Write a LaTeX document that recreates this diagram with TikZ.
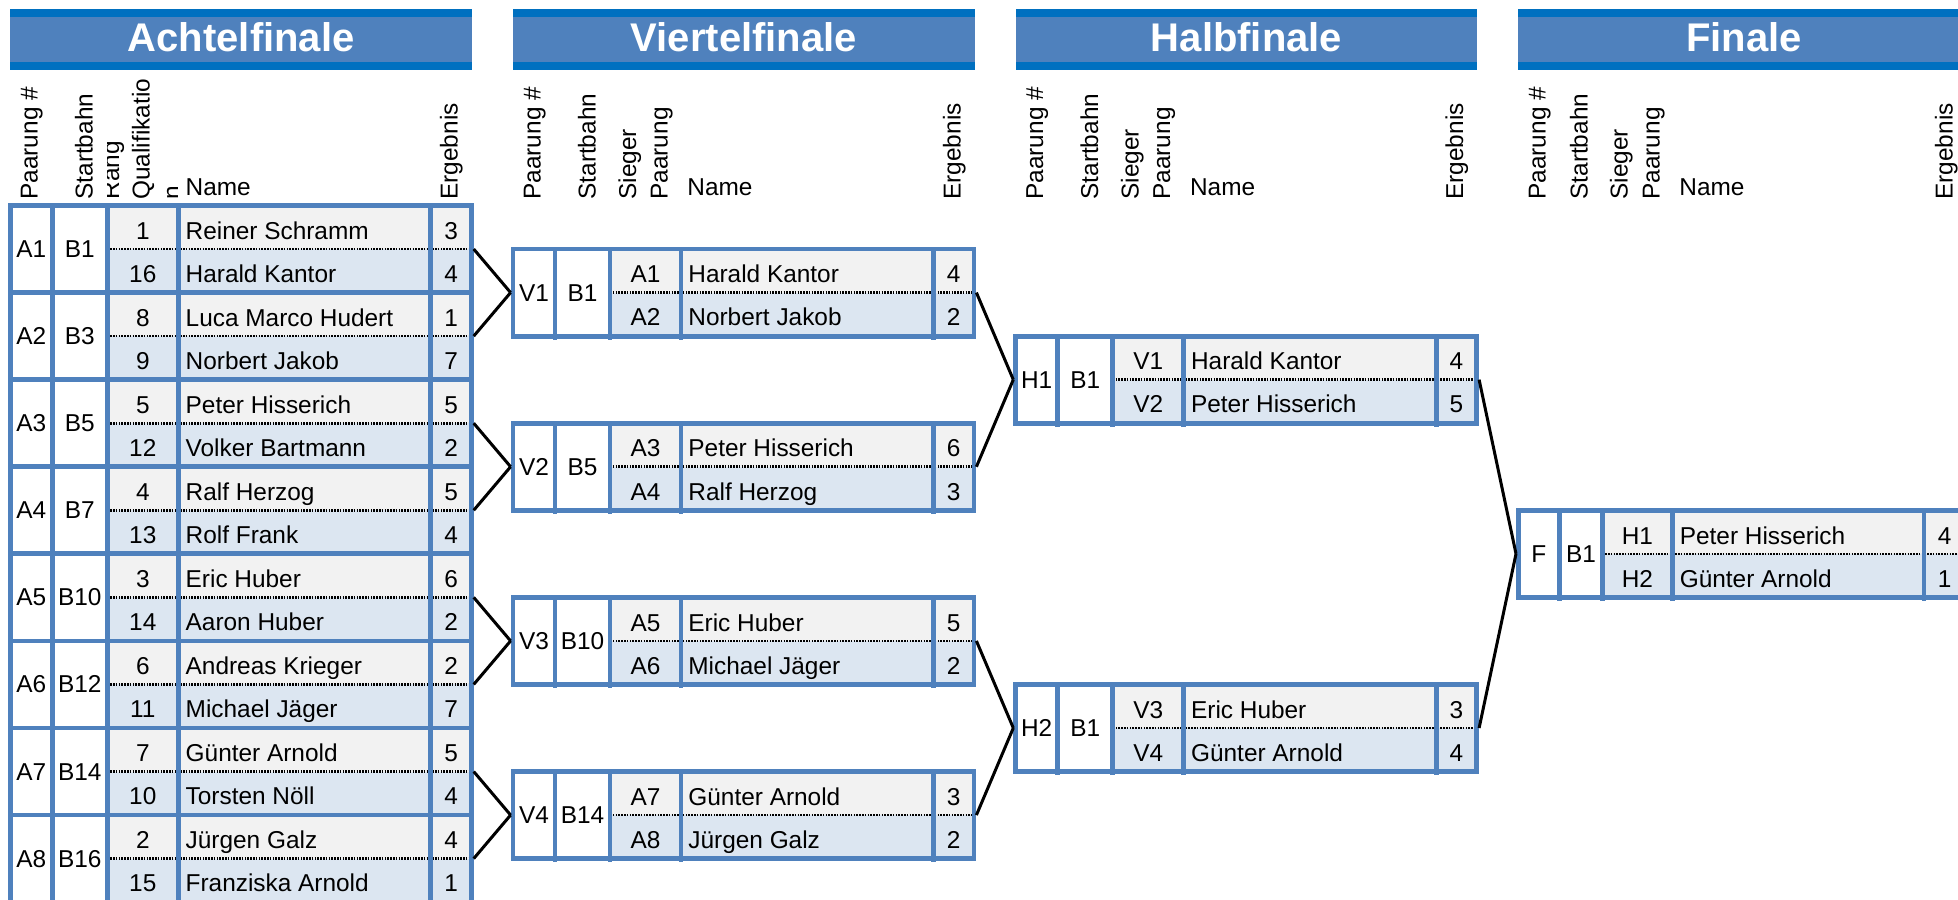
\documentclass[tikz,border=0pt]{standalone}
\usepackage{fontspec}
\setmainfont{Liberation Sans}
\definecolor{bord}{HTML}{4F81BD}
\definecolor{darkband}{HTML}{0070C0}
\definecolor{rowA}{HTML}{F2F2F2}
\definecolor{rowB}{HTML}{DCE6F1}
\def\rh{43.54}
\newcommand\drawmatch{%
  \pgfmathsetmacro\ym{\yt+\rh}%
  \pgfmathsetmacro\yb{\yt+2*\rh}%
  \fill[rowA] (\sx+\cB,\yt) rectangle (\sx+\cW,\ym);
  \fill[rowB] (\sx+\cB,\ym) rectangle (\sx+\cW,\yb);
  \draw[dotline] (\sx+\cB,\ym) -- (\sx+\cW,\ym);
  \foreach \cc in {\cA,\cB,\cC,\cD}{\draw[divline] (\sx+\cc,\yt) -- (\sx+\cc,\yb+3.5);}
  \node[frame, minimum width={\cW*0.5pt}, minimum height={\rh*1pt}] (\nm) at (\sx+\cW/2,\ym) {};
  \node[cell] (\nm-l) at (\sx+\cA/2,\ym+8.5) {\lab};
  \node[cell] (\nm-b) at (\sx+\cA/2+\cB/2,\ym+8.5) {\bahn};
  \node[cell] (\nm-ra) at (\sx+\cB/2+\cC/2,\yt+\rh/2+12) {\ra};
  \node[cellw] (\nm-na) at (\sx+\cC+7,\yt+\rh/2+12) {\na};
  \node[cell] (\nm-pa) at (\sx+\cD/2+\cW/2,\yt+\rh/2+12) {\pa};
  \node[cell] (\nm-rb) at (\sx+\cB/2+\cC/2,\ym+\rh/2+11.5) {\rb};
  \node[cellw] (\nm-nb) at (\sx+\cC+7,\ym+\rh/2+11.5) {\nb};
  \node[cell] (\nm-pb) at (\sx+\cD/2+\cW/2,\ym+\rh/2+11.5) {\pb};
}
\begin{document}
\begin{tikzpicture}[x=0.5pt,y=-0.5pt,
  frame/.style={draw=bord, line width=2.4pt, inner sep=0pt, rectangle},
  divline/.style={draw=bord, line width=2.4pt},
  dotline/.style={draw=black, line width=1.3pt, dash pattern=on 0.8pt off 0.6pt},
  conn/.style={draw=black, line width=1.5pt},
  cell/.style={inner sep=0pt, anchor=base, font=\fontsize{12.2}{14}\selectfont},
  cellw/.style={cell, anchor=base west},
  hdr/.style={cell, rotate=90, anchor=base west},
  hname/.style={cell, anchor=base west},
  titletext/.style={inner sep=0pt, anchor=base, text=white, font=\bfseries\fontsize{20}{24}\selectfont}]
\path[use as bounding box] (0,0) rectangle (1958,899);
\clip (0,0) rectangle (1958,899);
\fill[white] (0,0) rectangle (1958,899);

% banners
\foreach \s/\w/\t/\bn in {10.3/461.7/Achtelfinale/tA, 513/461.7/Viertelfinale/tV, 1015.7/461.7/Halbfinale/tH, 1518.4/451/Finale/tF}{
  \fill[darkband] (\s,9) rectangle (\s+\w,70);
  \fill[bord] (\s,17) rectangle (\s+\w,62);
  \node[titletext] (\bn) at (\s+\w/2,52) {\t};
}

% headers Achtelfinale
\node[hdr] (hA1) at (37.5,200) {Paarung \#};
\node[hdr] (hA2) at (92.5,200) {Startbahn};
\begin{scope}
  \clip (107.4,60) rectangle (177.4,205);
  \node[hdr] (hA3) at (119,200) {Rang};
  \node[hdr] (hA4) at (149.5,200) {Qualifikatio};
  \node[hdr] (hA5) at (180,200) {n};
\end{scope}
\node[hname] (hA6) at (185.3,195) {Name};
\node[hdr] (hA7) at (457.5,200) {Ergebnis};

% headers Viertel/Halb
\foreach \s/\p in {513/V,1015.7/H}{
  \node[hdr] (h\p1) at (\s+27.5,200) {Paarung \#};
  \node[hdr] (h\p2) at (\s+82.5,200) {Startbahn};
  \node[hdr] (h\p3) at (\s+123,200) {Sieger};
  \node[hdr] (h\p4) at (\s+154.5,200) {Paarung};
  \node[hname] (h\p5) at (\s+174,195) {Name};
  \node[hdr] (h\p6) at (\s+447.5,200) {Ergebnis};
}
% headers Finale
\node[hdr] (hF1) at (1545.5,200) {Paarung \#};
\node[hdr] (hF2) at (1587.5,200) {Startbahn};
\node[hdr] (hF3) at (1627.5,200) {Sieger};
\node[hdr] (hF4) at (1659.5,200) {Paarung};
\node[hname] (hF5) at (1679,195) {Name};
\node[hdr] (hF6) at (1952.5,200) {Ergebnis};

% Achtelfinale
\def\cA{42}\def\cB{97}\def\cC{168}\def\cD{420.5}\def\cW{461}
\def\sx{10.3}
\foreach \nm/\yt/\lab/\bahn/\ra/\na/\pa/\rb/\nb/\pb in {
  A1/205.5/A1/B1/1/Reiner Schramm/3/16/Harald Kantor/4,
  A2/292.58/A2/B3/8/Luca Marco Hudert/1/9/Norbert Jakob/7,
  A3/379.66/A3/B5/5/Peter Hisserich/5/12/Volker Bartmann/2,
  A4/466.74/A4/B7/4/Ralf Herzog/5/13/Rolf Frank/4,
  A5/553.82/A5/B10/3/Eric Huber/6/14/Aaron Huber/2,
  A6/640.9/A6/B12/6/Andreas Krieger/2/11/Michael Jäger/7,
  A7/727.98/A7/B14/7/Günter Arnold/5/10/Torsten Nöll/4,
  A8/815.06/A8/B16/2/Jürgen Galz/4/15/Franziska Arnold/1}{\drawmatch}

% Viertelfinale
\def\sx{513}
\foreach \nm/\yt/\lab/\bahn/\ra/\na/\pa/\rb/\nb/\pb in {
  V1/249.04/V1/B1/A1/Harald Kantor/4/A2/Norbert Jakob/2,
  V2/423.2/V2/B5/A3/Peter Hisserich/6/A4/Ralf Herzog/3,
  V3/597.36/V3/B10/A5/Eric Huber/5/A6/Michael Jäger/2,
  V4/771.52/V4/B14/A7/Günter Arnold/3/A8/Jürgen Galz/2}{\drawmatch}

% Halbfinale
\def\sx{1015.7}
\foreach \nm/\yt/\lab/\bahn/\ra/\na/\pa/\rb/\nb/\pb in {
  H1/336.12/H1/B1/V1/Harald Kantor/4/V2/Peter Hisserich/5,
  H2/684.44/H2/B1/V3/Eric Huber/3/V4/Günter Arnold/4}{\drawmatch}

% Finale
\def\cA{41}\def\cB{84}\def\cC{154}\def\cD{405.5}\def\cW{447}
\def\sx{1518.4}
\foreach \nm/\yt/\lab/\bahn/\ra/\na/\pa/\rb/\nb/\pb in {
  F/510.28/F/B1/H1/Peter Hisserich/4/H2/Günter Arnold/1}{\drawmatch}

% connectors
\foreach \a/\b in {A1/V1,A2/V1,A3/V2,A4/V2,A5/V3,A6/V3,A7/V4,A8/V4,V1/H1,V2/H1,V3/H2,V4/H2,H1/F,H2/F}{
  \draw[conn] (\a.east) -- (\b.west);
}
\end{tikzpicture}
\end{document}
